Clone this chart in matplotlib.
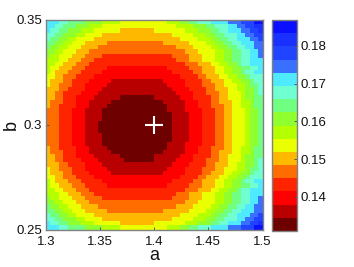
import numpy as np
import matplotlib
matplotlib.use('Agg')
import matplotlib.pyplot as plt
from matplotlib.colors import ListedColormap, BoundaryNorm

plt.rcParams['font.family'] = ['Liberation Sans', 'DejaVu Sans']

# band colours, lowest value first
band_colors = ['#6e0000', '#b80000', '#ff0000', '#ff2400', '#ff6c00', '#ffb800',
               '#eaff00', '#b4ff00', '#90ff30', '#70ff80', '#70ffd0', '#50eaff',
               '#3a70ff', '#2044ff', '#1a30ff', '#0a10ff']
vmin = 0.1309
vmax = 0.1869

a_edges = np.linspace(1.3, 1.5, 51)
b_edges = np.linspace(0.35, 0.25, 51)

# band index of every cell (hex digit), top row first
rows = [
    "bbb aa 9999 8888 7777 66666666666 777 88 99 aaa bbbb ccc ddd ff",
    "bb aa 999 888 777 66666666666666666 7777 888 99 aaa bb cc dd ee",
    "b aa 99 888 777 666666 55555555 6666666 777 888 99 aa bbb cc dd e",
    "aa 99 888 77 6666 5555555555555555 66666 777 88 99 aaa bb cc dd",
    "a 99 88 77 6666 55555555555555555555 6666 777 88 99 aa bbb cc d",
    "99 88 77 666 55555 4444444444444 555555 6666 77 88 99 aa bbb cc",
    "9 88 77 666 5555 444444444444444444 5555 6666 77 88 99 aa bb cc",
    "88 77 666 555 4444444444444444444444 555 6666 77 88 99 aa bb c",
    "8 77 666 555 4444 3333333333333333 4444 555 666 77 88 99 aa bb c",
    "777 66 555 444 3333333333333333333 444 555 666 77 88 99 aa bbb",
    "77 66 555 444 3333333333333333333333 444 555 66 77 88 9 aa bbb",
    "7 66 555 444 33333 22222222222222 33333 444 555 66 77 88 99 aa b",
    "7 6 555 444 33333 2222222222222222 33333 44 555 66 77 88 9 aa bb",
    "66 55 444 3333 22222222222222222222 3333 44 555 66 77 88 9 aaa",
    "6 555 44 3333 22222 111111111111 22222 3333 44 555 66 77 88 9 aa",
    "6 55 444 333 22222 11111111111111 2222 3333 444 55 666 77 8 99 a",
    "555 44 3333 2222 1111111111111111 2222 3333 44 555 66 77 88 9 a",
    "55 44 3333 2222 111111111111111111 2222 333 444 55 666 7 88 9 a",
    "55 44 333 2222 111111 00000000 111111 222 3333 44 55 666 7 88 99",
    "5 444 333 222 11111 000000000000 11111 222 333 44 555 66 77 8 99",
    "5 44 3333 222 1111 00000000000000 1111 222 333 444 55 66 77 8 99",
    "444 333 222 1111 000000000000000 1111 2222 333 44 55 666 7 88 9",
    "444 333 222 1111 0000000000000000 1111 222 333 44 55 666 7 88 9",
    "444 333 222 1111 0000000000000000 1111 222 333 44 55 666 7 88 9",
    "444 333 222 111 00000000000000000 1111 222 333 44 55 666 7 88 9",
    "444 333 222 111 00000000000000000 1111 222 333 44 55 666 7 88 9",
    "444 333 222 111 00000000000000000 1111 222 333 44 55 666 7 88 9",
    "444 333 222 1111 0000000000000000 1111 222 333 44 55 666 7 88 9",
    "444 333 222 1111 0000000000000000 1111 222 333 44 55 666 7 88 9",
    "444 333 222 1111 000000000000000 1111 2222 333 44 55 666 7 88 9",
    "5 44 3333 222 1111 00000000000000 1111 222 333 444 55 66 77 8 99",
    "5 444 333 222 11111 000000000000 11111 222 333 44 555 66 77 8 99",
    "55 44 333 2222 111111 00000000 111111 222 3333 44 55 666 7 88 99",
    "55 44 3333 2222 111111 0000000 11111 2222 333 444 55 666 7 88 9 a",
    "555 44 3333 2222 1111111111111111 2222 3333 44 555 66 77 88 9 a",
    "6 55 444 333 22222 11111111111111 2222 3333 444 55 666 77 8 99 a",
    "6 555 44 3333 22222 111111111111 22222 3333 44 555 66 77 88 9 aa",
    "66 55 444 3333 22222222222222222222 3333 44 555 66 77 88 9 aaa",
    "7 6 555 444 33333 2222222222222222 33333 44 555 66 77 88 9 aa bb",
    "7 66 555 444 33333 22222222222222 33333 444 555 66 77 88 99 aa b",
    "77 66 555 444 3333333333333333333333 444 555 66 77 88 9 aa bbb",
    "777 66 555 444 3333333333333333333 444 555 666 77 88 99 aa bbb",
    "8 77 666 555 4444 3333333333333333 4444 555 666 77 88 99 aa bb c",
    "88 77 666 555 4444444444444444444444 555 6666 77 88 99 aa bb c",
    "9 88 77 666 5555 444444444444444444 5555 6666 77 88 99 aa bb cc",
    "99 88 77 666 55555 4444444444444 555555 6666 77 88 99 aa bbb cc",
    "a 99 88 77 6666 55555555555555555555 6666 777 88 99 aa bbb cc d",
    "aa 99 888 77 6666 5555555555555555 66666 777 88 99 aaa bb cc dd",
    "b aa 99 888 777 666666 55555555 6666666 777 888 99 aa bbb cc dd e",
    "bbb aa 9999 8888 7777 66666666666 777 88 99 aaa bbbb ccc ddd ff",
]

x_ticks = [1.3, 1.35, 1.4, 1.45, 1.5]
x_labels = ['1.3', '1.35', '1.4', '1.45', '1.5']
y_ticks = [0.25, 0.3, 0.35]
y_labels = ['0.25', '0.3', '0.35']
cbar_ticks = [0.14, 0.15, 0.16, 0.17, 0.18]
cbar_labels = ['0.14', '0.15', '0.16', '0.17', '0.18']
best_a = [1.4]
best_b = [0.3]

levels = np.array([[int(c, 16) for c in r.replace(' ', '')] for r in rows])
bounds = np.linspace(vmin, vmax, len(band_colors) + 1)
values = bounds[levels] + (bounds[1] - bounds[0]) / 2

W, H = 354, 267
fig = plt.figure(figsize=(W / 100, H / 100), dpi=100)
ax = fig.add_axes([46 / W, 1 - 229.5 / H, 216.5 / W, 209.5 / H])
cax = fig.add_axes([272 / W, 1 - 231 / H, 24.5 / W, 211 / H])

cmap = ListedColormap(band_colors)
norm = BoundaryNorm(bounds, cmap.N)
mesh = ax.pcolormesh(a_edges, b_edges, values, cmap=cmap, norm=norm)
ax.plot(best_a, best_b, '+', color='white', ms=13, mew=1.5)

ax.set_xlim(1.3, 1.5)
ax.set_ylim(0.25, 0.35)
ax.set_xticks(x_ticks, x_labels)
ax.set_yticks(y_ticks, y_labels)
ax.set_xlabel('a', fontsize=13, labelpad=-1, color='#111111')
ax.set_ylabel('b', fontsize=13, labelpad=-3, color='#111111')

cb = fig.colorbar(mesh, cax=cax, spacing='proportional', ticks=cbar_ticks)
cb.ax.set_yticklabels(cbar_labels)
cb.ax.minorticks_off()

for a in (ax, cax):
    a.tick_params(direction='in', length=2, width=0.7, color='#555555',
                  labelsize=9.5, pad=3, labelcolor='#111111')
    for s in a.spines.values():
        s.set_color('#808080')
        s.set_linewidth(1.0)
ax.tick_params(axis='x', pad=5)
cb.outline.set_edgecolor('#808080')
cb.outline.set_linewidth(1.0)

fig.savefig('out.png', dpi=100)
